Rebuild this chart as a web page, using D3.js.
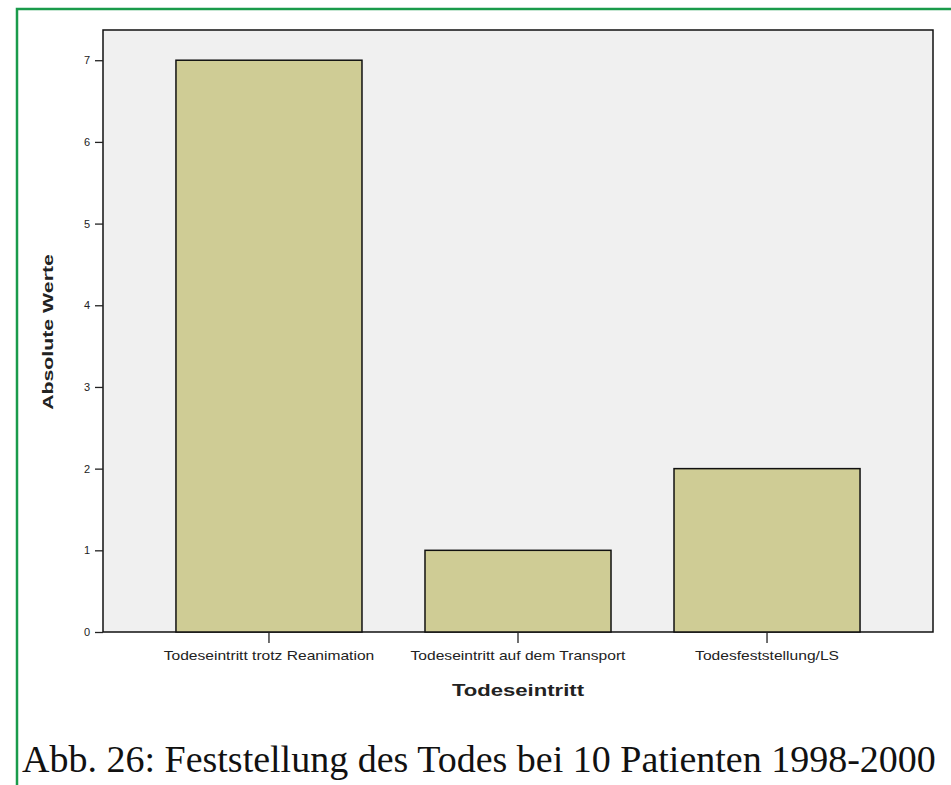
<!DOCTYPE html>
<html>
<head>
<meta charset="utf-8">
<script src="https://cdn.jsdelivr.net/npm/d3@7"></script>
<style>
  body { margin: 0; background: #fff; }
  svg { display: block; }
</style>
</head>
<body>
<div class="chart"></div>
<script>
// Todeseintritt, absolute Werte
const categories = ['Todeseintritt trotz  Reanimation', 'Todeseintritt auf dem Transport', 'Todesfeststellung/LS'];
const values = [7, 1, 2];
const yTicks = [0, 1, 2, 3, 4, 5, 6, 7];

const width = 951;
const height = 785;
const svg = d3.select('.chart')
    .append('svg')
    .attr('width', width)
    .attr('height', height);

// green frame round the figure
svg.append('rect')
    .attr('x', 17)
    .attr('y', 9)
    .attr('width', 960)
    .attr('height', 800)
    .attr('fill', 'none')
    .attr('stroke', '#1a9b4b')
    .attr('stroke-width', 2.5);

const plotLeft = 103, plotRight = 933, plotTop = 30, plotBottom = 632;
const stretch = 1.38; // the original picture is wider than its fonts

const x = d3.scaleBand()
    .domain(categories)
    .range([plotLeft, plotRight])
    .paddingInner(0.253)
    .paddingOuter(0.293);

const y = d3.scaleLinear()
    .domain([0, 7.37])
    .range([plotBottom, plotTop]);

// plot background
svg.append('rect')
    .attr('x', plotLeft)
    .attr('y', plotTop)
    .attr('width', plotRight - plotLeft)
    .attr('height', plotBottom - plotTop)
    .attr('fill', '#f0f0f0')
    .attr('stroke', '#111')
    .attr('stroke-width', 1.5);

svg.selectAll('rect.bar')
    .data(values)
    .enter()
    .append('rect')
    .attr('class', 'bar')
    .attr('x', (d, i) => x(categories[i]))
    .attr('y', d => y(d))
    .attr('width', x.bandwidth())
    .attr('height', d => y(0) - y(d))
    .attr('fill', '#cfcc95')
    .attr('stroke', '#111')
    .attr('stroke-width', 1.5);

// axes
const yAxis = svg.append('g')
    .attr('transform', `translate(${plotLeft},0)`)
    .call(d3.axisLeft(y).tickValues(yTicks).tickSize(8).tickPadding(5));
const xAxis = svg.append('g')
    .attr('transform', `translate(0,${plotBottom})`)
    .call(d3.axisBottom(x).tickSize(11).tickPadding(8));

[yAxis, xAxis].forEach(g => {
    g.select('.domain').remove();
    g.selectAll('line').attr('stroke', '#222').attr('stroke-width', 1.3);
    g.selectAll('text')
        .attr('font-family', 'Liberation Sans, Arial, sans-serif')
        .attr('font-size', 11)
        .attr('fill', '#222');
});
xAxis.selectAll('text')
    .attr('font-size', 12)
    .attr('transform', `scale(${stretch - 0.08},1)`);

// axis titles
svg.append('text')
    .text('Todeseintritt')
    .attr('transform', `translate(${x(categories[1]) + x.bandwidth() / 2},696) scale(${stretch},1)`)
    .attr('text-anchor', 'middle')
    .attr('font-family', 'Liberation Sans, Arial, sans-serif')
    .attr('font-weight', 'bold')
    .attr('font-size', 16)
    .attr('fill', '#222');

svg.append('text')
    .text('Absolute Werte')
    .attr('transform', `translate(53,${(plotTop + plotBottom) / 2 + 1}) rotate(-90) scale(${stretch + 0.04},1)`)
    .attr('text-anchor', 'middle')
    .attr('font-family', 'Liberation Sans, Arial, sans-serif')
    .attr('font-weight', 'bold')
    .attr('font-size', 15)
    .attr('fill', '#222');

// caption
svg.append('text')
    .text('Abb. 26: Feststellung des Todes bei 10 Patienten 1998-2000')
    .attr('x', 22)
    .attr('y', 772)
    .attr('font-family', 'Liberation Serif, Times New Roman, serif')
    .attr('font-size', 38)
    .attr('fill', '#111');
</script>
</body>
</html>
